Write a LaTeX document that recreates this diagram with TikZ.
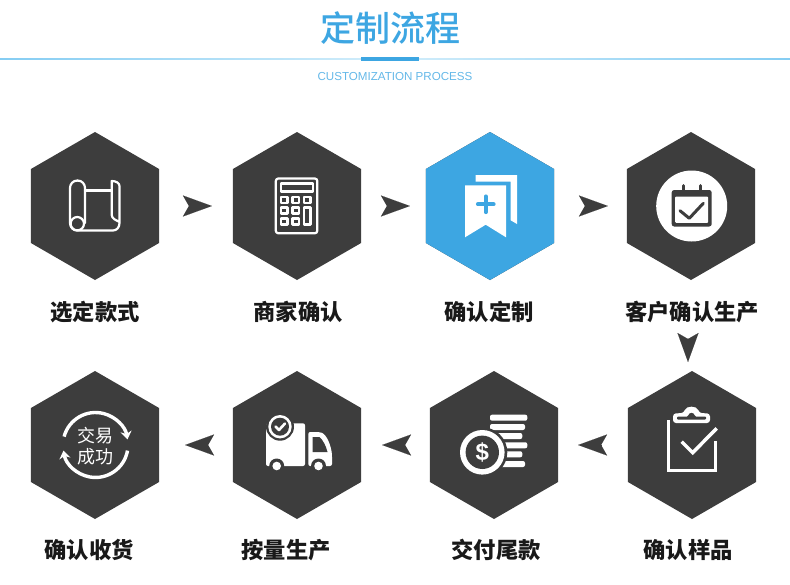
\documentclass[tikz,border=0pt]{standalone}
\usepackage{fontspec}
\setmainfont{Liberation Sans}
\newfontfamily\cjk{Noto Sans CJK SC}
\newfontfamily\cjkmed{Noto Sans CJK SC Medium}
\usetikzlibrary{arrows.meta,shapes.geometric}
\definecolor{hexdark}{HTML}{3D3D3D}
\definecolor{skyblue}{HTML}{3DA6E2}
\definecolor{linelight}{HTML}{85CDF3}
\definecolor{linepale}{HTML}{CDEBFA}
\tikzset{
  hexa/.style={regular polygon,regular polygon sides=6,regular polygon rotate=30,
               minimum size=148pt,inner sep=0pt,outer sep=0pt,fill=hexdark},
  lbl/.style={font=\cjk\bfseries\fontsize{22.3}{22.3}\selectfont,text=black!90,inner sep=0pt},
  flowarr/.style={-{Stealth[length=29pt,width=21pt,inset=6pt]},hexdark,line width=0.05pt},
  ico/.style={draw=white,line width=2.2pt,line join=round,line cap=round},
  icodark/.style={draw=hexdark,line width=3pt,line join=round,line cap=round},
  dealarc/.style={draw=white,line width=3.4pt,-{Stealth[length=8pt,width=11pt]}},
  dealtxt/.style={font=\cjk\fontsize{18}{18}\selectfont,text=white,inner sep=0pt},
}
\begin{document}
\begin{tikzpicture}[x=1pt,y=1pt,yscale=-1]
  \useasboundingbox (0,0) rectangle (790,584);
  % header
  \node[font=\cjkmed\fontsize{35}{35}\selectfont,text=skyblue,inner sep=0pt] (title) at (390,28) {定制流程};
  \fill[left color=linelight,right color=linepale] (0,58.5) rectangle (361,59.7);
  \fill[left color=linepale,right color=linelight] (419,58.5) rectangle (790,59.7);
  \node[fill=skyblue,minimum width=58pt,minimum height=4pt,inner sep=0pt] (titlebar) at (390,59) {};
  \node[font=\fontsize{11.6}{12}\selectfont,text=skyblue!80,inner sep=0pt] (subtitle) at (395,76.5) {CUSTOMIZATION PROCESS};
  % hexagons and their labels
  \foreach \n/\x/\y/\lx/\ly/\t in {1/95/206/95/312/选定款式,2/297/206/298/312/商家确认,3/490/206/489/312/确认定制,4/691/206/692/312/客户确认生产,
                               5/692/445/688/550/确认样品,6/494/445/496/550/交付尾款,7/297/445/286/550/按量生产,8/95/445/89/550/确认收货}{
    \node[hexa] (h\n) at (\x,\y) {};
    \node[lbl] (l\n) at (\lx,\ly) {\t};
  }
  \node[hexa,fill=skyblue] (h3) at (490,206) {};
  % connectors
  \draw[flowarr,shorten <=30pt,shorten >=21pt] (h1) -- (h2);
  \draw[flowarr,shorten <=27pt,shorten >=16pt] (h2) -- (h3);
  \draw[flowarr,shorten <=31pt,shorten >=19pt] (h3) -- (h4);
  \draw[flowarr,shorten <=59pt,shorten >=9pt] ([xshift=-3pt]h4.south) -- ([xshift=-4pt]h5.north);
  \draw[flowarr,shorten <=27pt,shorten >=20pt] (h5) -- (h6);
  \draw[flowarr,shorten <=30pt,shorten >=21pt] (h6) -- (h7);
  \draw[flowarr,shorten <=30pt,shorten >=26pt] (h7) -- (h8);
  % scroll
  \draw[ico] (77.5,180.5) .. controls (73,180.5) and (70,184) .. (70,188) -- (70,223) .. controls (70,227) and (73,230.5) .. (77,230.5) -- (113,230.5) .. controls (117,230.5) and (119.5,227) .. (119.5,223) -- (119.5,186) .. controls (119.5,183) and (116,181) .. (111.7,181) -- (111.7,215) .. controls (112,219) and (116,220) .. (119.5,222);
  \draw[ico] (77.5,180.5) .. controls (82,180.5) and (85,184) .. (85,188) -- (85,223);
  \draw[ico] (85,190.5) -- (111.7,190.5);
  \draw[ico] (77.3,223.7) circle (6.7);
  % calculator
  \draw[ico,rounded corners=2.5pt] (275.8,178.5) rectangle (317.3,233.3);
  \draw[ico] (281,183.5) rectangle (313,191.5);
  \foreach \bx in {281,292.5,304}{
    \draw[ico] (\bx,196.8) rectangle +(6.5,6);
  }
  \foreach \bx in {281,292.5}{
    \draw[ico] (\bx,207.5) rectangle +(6.5,6);
    \draw[ico] (\bx,218.5) rectangle +(6.5,6);
  }
  \draw[ico] (304,207.5) rectangle (310.5,224.5);
  % bookmarks
  \fill[white] (475.7,175) -- (517,175) -- (517,224) -- (510.7,220.3) -- (510.7,181.7) -- (475.7,181.7) -- cycle;
  \fill[white] (465,185.3) -- (506,185.3) -- (506,237.3) -- (485.7,224.7) -- (465,237.3) -- cycle;
  \draw[draw=skyblue,line width=4.2pt,line cap=round] (478,204.3) -- (493.5,204.3) (485.7,196.5) -- (485.7,212);
  % calendar
  \fill[white] (691.7,206) circle (35.5);
  \fill[hexdark,rounded corners=2.5pt] (671.7,190) rectangle (711.7,226.5);
  \fill[white,rounded corners=1pt] (675.2,196.5) rectangle (708.2,222.8);
  \draw[icodark] (683.3,185.5) -- (683.3,190) (700,185.5) -- (700,190);
  \draw[icodark] (680,210.7) -- (689.3,218.3) -- (703.3,203.3);
  % clipboard
  \draw[ico,line width=3pt,line cap=butt,line join=miter] (668.3,420) -- (668.3,470) -- (715,470) -- (715,441);
  \draw[ico,line width=3.5pt,line cap=butt,line join=miter] (681.7,441.7) -- (692.7,452.7) -- (716.7,428.3);
  \fill[white,rounded corners=3pt] (673,423) -- (673,413.5) -- (684,413) .. controls (686,405.5) and (697,405.5) .. (699,413) -- (710,413.5) -- (710,423) -- cycle;
  \fill[hexdark,rounded corners=1pt] (677,416.5) -- (688,416.5) .. controls (689,412) and (694,412) .. (695,416.5) -- (706,416.5) -- (706,419.7) -- (677,419.7) -- cycle;
  % coins
  \foreach \by/\bx in {417.7/527.3,427/525,436/522.3,445.3/527.3,454.3/522.3,464/525}{
    \fill[white,rounded corners=2pt] (490,\by-3) rectangle (\bx,\by+3);
  }
  \fill[hexdark] (482.3,452.3) circle (25);
  \fill[white] (482.3,452.3) circle (22.3);
  \fill[hexdark] (482.3,452.3) circle (16.7);
  \node[font=\bfseries\fontsize{24}{24}\selectfont,text=white,inner sep=0pt] (dollar) at (482.3,452.3) {\$};
  % truck
  \fill[white,rounded corners=2pt] (266,423.3) rectangle (305,466);
  \fill[white,rounded corners=2pt] (308.3,432) -- (320,432) .. controls (327,435) and (331,446) .. (332,455) -- (332,466) -- (308.3,466) -- cycle;
  \fill[hexdark] (312.5,437) -- (319.5,437) .. controls (323,440) and (326,446) .. (327.5,452) -- (312.5,452) -- cycle;
  \foreach \wx in {276.7,318.5}{
    \fill[hexdark] (\wx,466) circle (7.5);
    \fill[white] (\wx,466) circle (4.3);
  }
  \fill[hexdark] (280,426.7) circle (14);
  \fill[white] (280,426.7) circle (11.7);
  \fill[hexdark] (280,426.7) circle (9);
  \draw[ico,line width=2.6pt] (275.5,426.5) -- (279,430) -- (285,423.5);
  % deal done
  \draw[dealarc] (95.5,445) +(-31.4,-8.4) arc[start angle=195,end angle=350,radius=32.5];
  \draw[dealarc] (95.5,445) +(32,5.6) arc[start angle=10,end angle=170,radius=32.5];
  \node[dealtxt] (deal) at (95.3,435.5) {交易};
  \node[dealtxt] (done) at (95.3,457) {成功};
\end{tikzpicture}
\end{document}
